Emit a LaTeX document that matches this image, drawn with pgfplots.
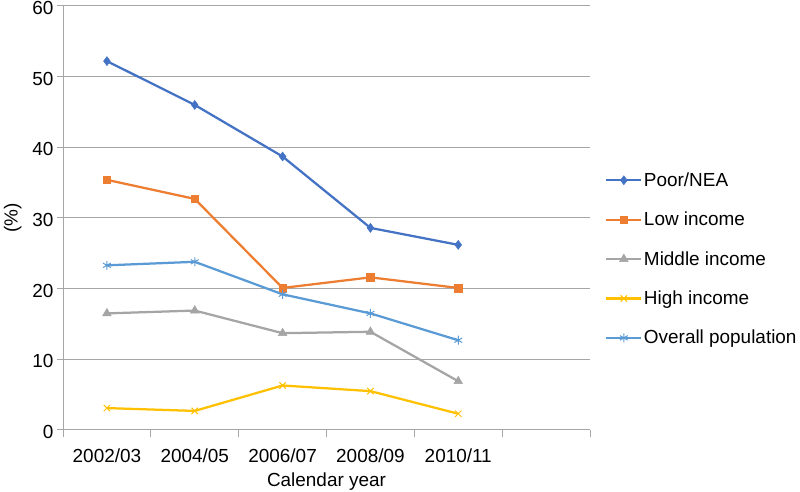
\documentclass[border=0pt]{standalone}
\usepackage{pgfplots}
\pgfplotsset{compat=1.18}
\usepackage{fontspec}
\setmainfont{Liberation Sans}
\definecolor{cPoor}{HTML}{4472C4}
\definecolor{cLow}{HTML}{ED7D31}
\definecolor{cMid}{HTML}{A5A5A5}
\definecolor{cHigh}{HTML}{FFC000}
\definecolor{cAll}{HTML}{5B9BD5}
\definecolor{cGrid}{HTML}{A6A6A6}
\begin{document}
\begin{tikzpicture}[x=1bp,y=1bp]
\useasboundingbox (0,0) rectangle (800,492);
\begin{axis}[
  at={(63bp,62bp)}, anchor=south west,
  scale only axis, width=527bp, height=424bp,
  xmin=-0.5, xmax=5.5, ymin=0, ymax=60,
  ytick={0,10,...,60},
  xtick={0,1,2,3,4},
  xticklabels={2002/03,2004/05,2006/07,2008/09,2010/11},
  minor xtick={-0.5,0.5,1.5,2.5,3.5,4.5,5.5},
  major x tick style={draw=none},
  tick align=outside,
  major tick length=6bp, minor tick length=7bp,
  tick style={cGrid, line width=1bp},
  axis x line*=bottom, axis y line*=left,
  axis line style={cGrid, line width=1bp},
  ymajorgrids, grid style={cGrid, line width=1bp},
  /pgf/number format/assume math mode=true,
  tick label style={font=\fontsize{19}{22}\selectfont, text=black},
  xticklabel style={yshift=-9bp},
  yticklabel style={yshift=-2bp},
  label style={font=\fontsize{19}{22}\selectfont},
  xlabel={Calendar year},
  ylabel={(\%)},
  xlabel style={yshift=-4bp},
  ylabel style={yshift=4bp},
  every axis plot/.append style={line width=2.25bp},
  legend style={at={(1.0285,0.611)}, anchor=north west, draw=none, fill=none,
    font=\fontsize{19}{22}\selectfont, row sep=21.2bp, inner sep=0pt,
    nodes={inner sep=1.5bp}},
  legend cell align=left,
  legend image code/.code={%
    \draw[#1, mark repeat=2, mark phase=2] plot coordinates {(0bp,0bp) (17.5bp,0bp) (35bp,0bp)};},
]
\addplot[cPoor, mark=diamond*, mark size=4.5bp, mark options={line width=0.5bp}] coordinates {(0,52.2) (1,46.0) (2,38.7) (3,28.6) (4,26.2)};
\addlegendentry{Poor/NEA}
\addplot[cLow, mark=square*, mark size=3.8bp, mark options={line width=0.5bp}] coordinates {(0,35.4) (1,32.7) (2,20.1) (3,21.6) (4,20.1)};
\addlegendentry{Low income}
\addplot[cMid, mark=triangle*, mark size=5bp, mark options={line width=0.5bp}] coordinates {(0,16.5) (1,16.9) (2,13.7) (3,13.9) (4,6.9)};
\addlegendentry{Middle income}
\addplot[cHigh, mark=x, mark size=4.5bp, mark options={line width=1bp}] coordinates {(0,3.1) (1,2.7) (2,6.3) (3,5.5) (4,2.3)};
\addlegendentry{High income}
\addplot[cAll, mark=asterisk, mark size=4.5bp, mark options={line width=1bp}] coordinates {(0,23.3) (1,23.8) (2,19.2) (3,16.5) (4,12.7)};
\addlegendentry{Overall population}
\end{axis}
\end{tikzpicture}
\end{document}
